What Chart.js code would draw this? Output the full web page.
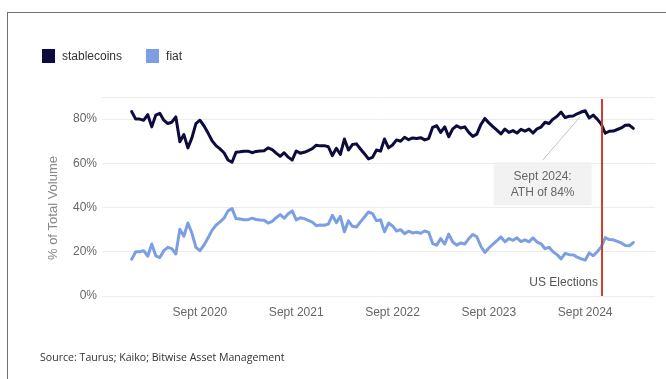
<!DOCTYPE html>
<html>
<head>
<meta charset="utf-8">
<script src="https://cdn.jsdelivr.net/npm/chart.js@4.4.1/dist/chart.umd.min.js"></script>
<style>
html, body { margin: 0; padding: 0; background: #fff; }
body { width: 666px; height: 379px; position: relative; overflow: hidden; font-family: "Liberation Sans", Arial, sans-serif; }
#frame { position: absolute; left: 7px; top: 12px; width: 670px; height: 380px; border-top: 1.5px solid #6f6f6f; border-left: 1.5px solid #6f6f6f; }
#legend { position: absolute; left: 42px; top: 49px; display: flex; align-items: center; font-size: 12px; color: #333; }
#legend span.sw { width: 13px; height: 14px; display: inline-block; margin-right: 7px; }
#legend span.lbl { margin-right: 24px; }
#source { position: absolute; left: 40px; top: 350px; font-family: "Open Sans", sans-serif; font-size: 10.6px; color: #333; }
#wrap { position: absolute; left: 0; top: 0; width: 666px; height: 379px; }
</style>
</head>
<body>
<div id="frame"></div>
<div id="wrap"><canvas id="volumeChart" width="666" height="379"></canvas></div>
<div id="legend">
  <span class="sw" style="background:#0d0b3e"></span><span class="lbl">stablecoins</span>
  <span class="sw" style="background:#7c9fe2"></span><span class="lbl">fiat</span>
</div>
<div id="source">Source: Taurus; Kaiko; Bitwise Asset Management</div>
<script>
// months counted from Jan 2020, readings every half month starting mid Dec 2019
const startMonth = -0.5;
const stepMonths = 0.5;

// share of total volume (%)
const stablecoins = [
    83.4, 80, 80, 79.5, 82, 76.5, 81.8, 82.6, 79.5, 78,
    78.6, 81, 69.8, 73, 67, 71.5, 78, 79.5, 77, 73.8,
    70.3, 68, 66.5, 64.8, 61.5, 60.5, 65, 65.2, 65.5, 65.5,
    64.8, 65.4, 65.6, 65.7, 67, 66.2, 64.6, 63.2, 64.8, 62.8,
    61.5, 65.6, 64.6, 65, 65.8, 66.6, 68.2, 67.9, 68, 67.5,
    63.5, 66.8, 64, 71, 66, 68.5, 68.8, 66.5, 64.3, 62,
    62.7, 66, 65.5, 71, 67, 68.3, 70.6, 70, 71.8, 70.7,
    71.5, 71.2, 71.6, 70.6, 71.2, 76.3, 77, 74, 76.5, 72,
    75.6, 77, 76, 76.5, 74, 72.2, 73.2, 77.5, 80.3, 78.3,
    76.6, 75, 73.3, 75.5, 74, 74.8, 73.7, 75.4, 74.6, 75.5,
    73.7, 75.6, 76.4, 78.6, 78, 80, 81.3, 83.2, 80.7, 81.3,
    81.4, 82.4, 83.2, 83.8, 80.5, 81.8, 80, 77.8, 73.6, 74.5,
    74.6, 75.3, 76, 77.2, 77.3, 75.8
];
const fiat = [
    16.6, 20, 20, 20.5, 18, 23.5, 18.2, 17.4, 20.5, 22,
    21.4, 19, 30.2, 27, 33, 28.5, 22, 20.5, 23, 26.2,
    29.7, 32, 33.5, 35.2, 38.5, 39.5, 35, 34.8, 34.5, 34.5,
    35.2, 34.6, 34.4, 34.3, 33, 33.8, 35.4, 36.8, 35.2, 37.2,
    38.5, 34.4, 35.4, 35, 34.2, 33.4, 31.8, 32.1, 32, 32.5,
    36.5, 33.2, 36, 29, 34, 31.5, 31.2, 33.5, 35.7, 38,
    37.3, 34, 34.5, 29, 33, 31.7, 29.4, 30, 28.2, 29.3,
    28.5, 28.8, 28.4, 29.4, 28.8, 23.7, 23, 26, 23.5, 28,
    24.4, 23, 24, 23.5, 26, 27.8, 26.8, 22.5, 19.7, 21.7,
    23.4, 25, 26.7, 24.5, 26, 25.2, 26.3, 24.6, 25.4, 24.5,
    26.3, 24.4, 23.6, 21.4, 22, 20, 18.7, 16.8, 19.3, 18.7,
    18.6, 17.6, 16.8, 16.2, 19.5, 18.2, 20, 22.2, 26.4, 25.5,
    25.4, 24.7, 24, 22.8, 22.7, 24.2
];

const tickMonths = [8, 20, 32, 44, 56];
const tickLabels = ['Sept 2020', 'Sept 2021', 'Sept 2022', 'Sept 2023', 'Sept 2024'];
const yTicks = [0, 20, 40, 60, 80, 90];
const electionMonth = 58.1;
const athNote = ['Sept 2024:', 'ATH of 84%'];

const months = stablecoins.map((v, i) => startMonth + i * stepMonths);
const toPoints = (arr) => arr.map((v, i) => ({ x: months[i], y: v }));

// red election marker, ATH callout and the axis title
const overlayPlugin = {
    id: 'overlay',
    afterDatasetsDraw(chart) {
        const { ctx, chartArea } = chart;
        const x = chart.scales.x, y = chart.scales.y;
        ctx.save();

        // ATH callout
        const peak = stablecoins.indexOf(Math.max(...stablecoins));
        const px = x.getPixelForValue(months[peak]);
        const py = y.getPixelForValue(stablecoins[peak]);
        const cx = x.getPixelForValue(50.7);
        const top = y.getPixelForValue(60.5);
        ctx.fillStyle = 'rgba(240,240,240,0.85)';
        ctx.fillRect(cx - 49, top, 98, 43);
        ctx.strokeStyle = '#c4c4c4';
        ctx.lineWidth = 1;
        ctx.beginPath();
        ctx.moveTo(cx, top - 2);
        ctx.lineTo(px - 5, py + 6);
        ctx.stroke();
        ctx.fillStyle = '#666';
        ctx.font = '12px "Liberation Sans", Arial, sans-serif';
        ctx.textAlign = 'center';
        ctx.textBaseline = 'middle';
        ctx.fillText(athNote[0], cx, top + 14);
        ctx.fillText(athNote[1], cx, top + 30);

        // election line
        const ex = x.getPixelForValue(electionMonth);
        ctx.strokeStyle = '#cf3b2c';
        ctx.lineWidth = 2;
        ctx.beginPath();
        ctx.moveTo(ex, chartArea.top + 2);
        ctx.lineTo(ex, chartArea.bottom);
        ctx.stroke();
        ctx.fillStyle = '#555';
        ctx.textAlign = 'right';
        ctx.fillText('US Elections', ex - 4, y.getPixelForValue(6));

        // y axis title
        ctx.translate(53, 208);
        ctx.rotate(-Math.PI / 2);
        ctx.textAlign = 'center';
        ctx.fillStyle = '#888';
        ctx.font = '13px "Liberation Sans", Arial, sans-serif';
        ctx.fillText('% of Total Volume', 0, 0);
        ctx.restore();
    }
};

const ctx = document.getElementById('volumeChart').getContext('2d');
const volumeChart = new Chart(ctx, {
    type: 'line',
    data: {
        datasets: [{
            label: 'stablecoins',
            data: toPoints(stablecoins),
            borderColor: '#0d0b3e',
            borderWidth: 3
        }, {
            label: 'fiat',
            data: toPoints(fiat),
            borderColor: '#7c9fe2',
            borderWidth: 3
        }]
    },
    options: {
        responsive: false,
        animation: false,
        elements: {
            point: { radius: 0 },
            line: { tension: 0, borderJoinStyle: 'round', borderCapStyle: 'round' }
        },
        layout: { padding: { left: 40, right: 11, top: 97, bottom: 53 } },
        plugins: { legend: { display: false }, tooltip: { enabled: false } },
        scales: {
            x: {
                type: 'linear',
                min: -4.2,
                max: 64.7,
                grid: { display: false },
                border: { display: false },
                afterBuildTicks: (s) => { s.ticks = tickMonths.map(v => ({ value: v })); },
                afterFit: (s) => { s.height = 30; },
                ticks: {
                    autoSkip: false,
                    maxRotation: 0,
                    padding: 1,
                    color: '#666',
                    font: { size: 12, family: '"Liberation Sans", Arial, sans-serif' },
                    callback: (v) => tickLabels[tickMonths.indexOf(v)]
                }
            },
            y: {
                min: 0,
                max: 90,
                afterBuildTicks: (s) => { s.ticks = yTicks.map(v => ({ value: v })); },
                afterFit: (s) => { s.width = 62; },
                grid: { color: '#ececec', drawTicks: false },
                border: { display: false },
                ticks: {
                    padding: 5,
                    color: '#666',
                    font: { size: 12, family: '"Liberation Sans", Arial, sans-serif' },
                    callback: (v) => (v % 20 === 0 ? v + '%' : '')
                }
            }
        }
    },
    plugins: [overlayPlugin]
});
</script>
</body>
</html>
